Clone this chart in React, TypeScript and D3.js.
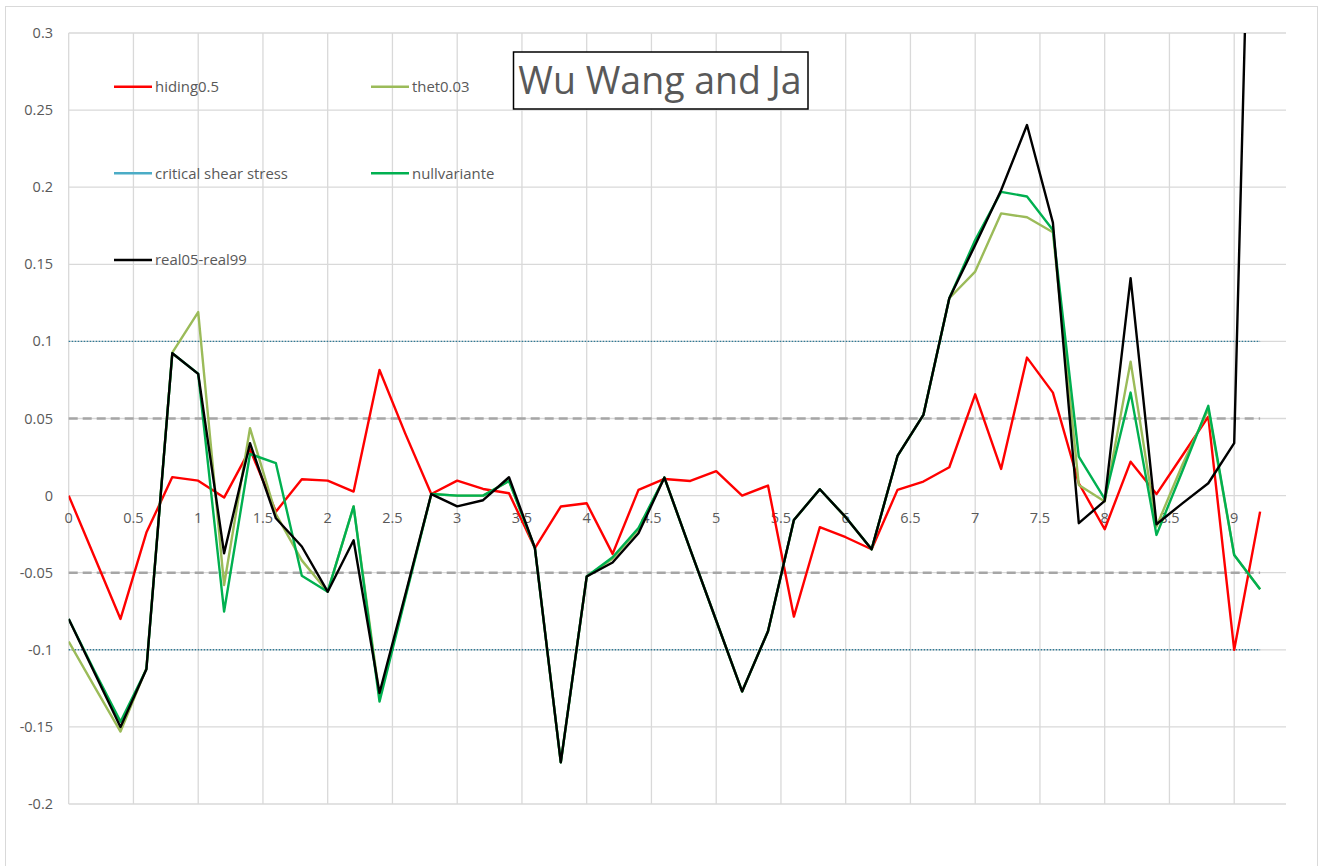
import React from "react";
import * as d3 from "d3";

const xs = [0, 0.2, 0.4, 0.6, 0.8, 1, 1.2, 1.4, 1.6, 1.8, 2, 2.2, 2.4, 2.6, 2.8, 3, 3.2, 3.4, 3.6, 3.8, 4, 4.2, 4.4, 4.6, 4.8, 5, 5.2, 5.4, 5.6, 5.8, 6, 6.2, 6.4, 6.6, 6.8, 7, 7.2, 7.4, 7.6, 7.8, 8, 8.2, 8.4, 8.6, 8.8, 9, 9.2];

const hiding = [0, -0.04, -0.08, -0.024, 0.012, 0.0097, -0.0013, 0.03, -0.0104, 0.0106, 0.0097, 0.0026, 0.0815, 0.04, 0.001, 0.0097, 0.0043, 0.0015, -0.034, -0.0071, -0.005, -0.0378, 0.0037, 0.0108, 0.0095, 0.0158, 0, 0.0065, -0.0785, -0.0205, -0.027, -0.0348, 0.0037, 0.0091, 0.0184, 0.0657, 0.0173, 0.0895, 0.0668, 0.008, -0.0218, 0.022, 0.001, 0.026, 0.0512, -0.1, -0.0104];

const thet = [-0.0947, -0.124, -0.153, -0.112, 0.0927, 0.119, -0.058, 0.0437, -0.012, -0.042, -0.0623, -0.007, -0.13, -0.065, 0.001, 0, 0, 0.0095, -0.034, -0.173, -0.0525, -0.041, -0.022, 0.0117, -0.035, -0.081, -0.127, -0.088, -0.0158, 0.0041, -0.014, -0.0348, 0.0257, 0.0523, 0.128, 0.1453, 0.183, 0.1805, 0.1708, 0.0069, -0.0039, 0.0869, -0.02, 0.02, 0.056, -0.0385, -0.0607];

const critical: number[] = [];

const nullvariante = [-0.08, -0.114, -0.1466, -0.1126, 0.0923, 0.079, -0.0752, 0.027, 0.021, -0.052, -0.0623, -0.007, -0.1336, -0.066, 0.001, 0, 0, 0.0095, -0.034, -0.173, -0.0525, -0.04, -0.021, 0.0117, -0.035, -0.081, -0.127, -0.088, -0.0158, 0.0041, -0.014, -0.0348, 0.0257, 0.0523, 0.128, 0.1657, 0.197, 0.194, 0.1723, 0.0253, -0.0021, 0.0668, -0.0255, 0.016, 0.0582, -0.0385, -0.0607];

const real = [-0.08, -0.115, -0.15, -0.1126, 0.0923, 0.0789, -0.0374, 0.034, -0.0147, -0.033, -0.0623, -0.029, -0.128, -0.064, 0.001, -0.007, -0.003, 0.0119, -0.034, -0.173, -0.0525, -0.0434, -0.0244, 0.0117, -0.035, -0.081, -0.127, -0.088, -0.0158, 0.0041, -0.014, -0.0348, 0.0257, 0.0523, 0.128, 0.1625, 0.198, 0.2403, 0.177, -0.0179, -0.0034, 0.141, -0.0186, -0.005, 0.008, 0.034, 0.68];

const seriesNames = ["hiding0.5", "thet0.03", "critical shear stress", "nullvariante", "real05-real99"];
const seriesColors = ["#ff0000", "#9bbb59", "#4bacc6", "#00b050", "#000000"];
const seriesValues = [hiding, thet, critical, nullvariante, real];

const yTicks = [-0.2, -0.15, -0.1, -0.05, 0, 0.05, 0.1, 0.15, 0.2, 0.25, 0.3];
const xTicks = [0, 0.5, 1, 1.5, 2, 2.5, 3, 3.5, 4, 4.5, 5, 5.5, 6, 6.5, 7, 7.5, 8, 8.5, 9];
const refDotted = [0.1, -0.1];
const refDashed = [0.05, -0.05];
const refSpan = [0, 9.2];

const title = "Wu Wang and Ja";

export default function App() {
  const W = 1322, H = 866;
  const left = 68.7, right = 1286, top = 33, bottom = 804;
  const x = d3.scaleLinear().domain([0, 9.4]).range([left, right]);
  const y = d3.scaleLinear().domain([-0.2, 0.3]).range([bottom, top]);
  const font = "'Open Sans', 'Noto Sans', sans-serif";
  const txt = "#595959";
  const grid = "#d9d9d9";

  const line = d3
    .line<[number, number]>()
    .x((d) => x(d[0]))
    .y((d) => y(d[1]));

  const legendPos = [
    [114, 86.7],
    [371, 86.7],
    [114, 173.3],
    [371, 173.3],
    [114, 260],
  ];

  return (
    <svg width={W} height={H} style={{ position: "absolute", left: 0, top: 0 }} xmlns="http://www.w3.org/2000/svg">
      <defs>
        <clipPath id="plotclip">
          <rect x={left} y={top} width={right - left} height={bottom - top} />
        </clipPath>
      </defs>
      <rect x={0} y={0} width={W} height={H} fill="#fff" />
      <rect x={5.5} y={6.5} width={1312} height={880} fill="none" stroke="#d9d9d9" strokeWidth={1} />

      {yTicks.map((t) => (
        <line key={"hy" + t} x1={left} x2={right} y1={y(t)} y2={y(t)} stroke={grid} strokeWidth={1.3} />
      ))}
      {xTicks.map((t) => (
        <line key={"vx" + t} x1={x(t)} x2={x(t)} y1={top} y2={bottom} stroke={grid} strokeWidth={1.3} />
      ))}

      {yTicks.map((t) => (
        <text key={"yl" + t} x={53} y={y(t)} dy="0.35em" textAnchor="end" fontFamily={font} fontSize={14.5} fill={txt}>
          {String(+t.toFixed(2))}
        </text>
      ))}
      {xTicks.map((t) => (
        <text key={"xl" + t} x={x(t)} y={y(0) + 22.5} dy="0.35em" textAnchor="middle" fontFamily={font} fontSize={14.5} fill={txt}>
          {String(t)}
        </text>
      ))}

      {refDashed.map((v) => (
        <line key={"rd" + v} x1={x(refSpan[0])} x2={x(refSpan[1])} y1={y(v)} y2={y(v)} stroke="#a6a6a6" strokeWidth={2.6} strokeDasharray="9,5" />
      ))}
      {refDotted.map((v) => (
        <line key={"rt" + v} x1={x(refSpan[0])} x2={x(refSpan[1])} y1={y(v)} y2={y(v)} stroke="#2f7a96" strokeWidth={1.4} strokeDasharray="1.5,1.5" />
      ))}

      <g clipPath="url(#plotclip)">
        {seriesValues.map((vals, i) =>
          vals.length ? (
            <path
              key={"s" + i}
              d={line(vals.map((v, j) => [xs[j], v] as [number, number])) || ""}
              fill="none"
              stroke={seriesColors[i]}
              strokeWidth={2.4}
              strokeLinejoin="round"
            />
          ) : null
        )}
      </g>

      {seriesNames.map((n, i) => (
        <g key={"lg" + i}>
          <line x1={legendPos[i][0]} x2={legendPos[i][0] + 38} y1={legendPos[i][1]} y2={legendPos[i][1]} stroke={seriesColors[i]} strokeWidth={2.6} />
          <text x={legendPos[i][0] + 41} y={legendPos[i][1]} dy="0.35em" fontFamily={font} fontSize={14.9} fill={txt}>
            {n}
          </text>
        </g>
      ))}

      <rect x={513.5} y={52} width={294.5} height={57} fill="#fff" stroke="#000" strokeWidth={1.5} />
      <text x={660} y={81} dy="0.35em" textAnchor="middle" fontFamily={font} fontSize={37.5} fill={txt}>
        {title}
      </text>
    </svg>
  );
}
